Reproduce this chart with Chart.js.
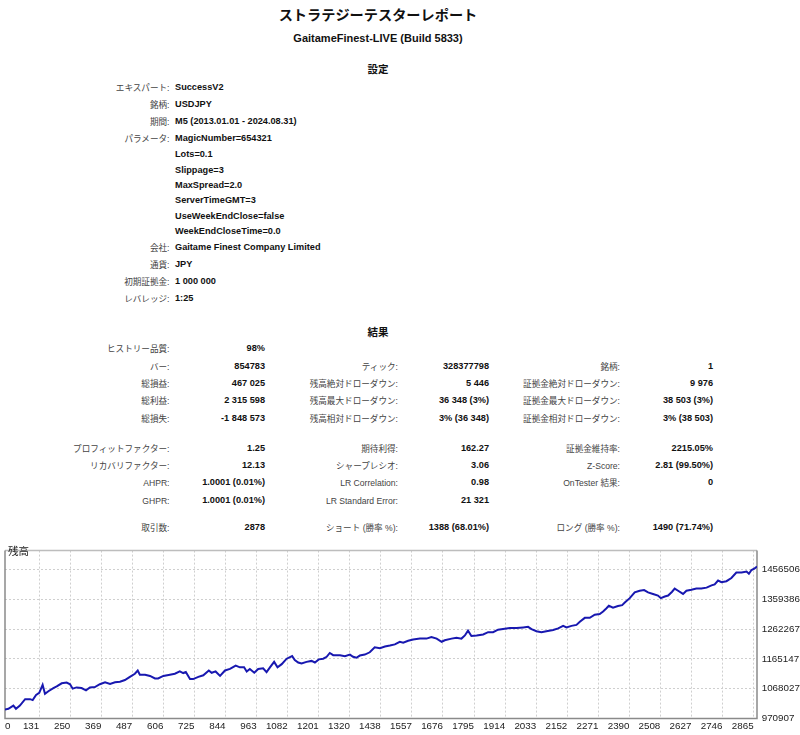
<!DOCTYPE html>
<html><head><meta charset="utf-8">
<script src="https://cdn.jsdelivr.net/npm/chart.js@4/dist/chart.umd.min.js"></script>
<style>
html,body{margin:0;padding:0;background:#fff;}
body{width:800px;height:735px;position:relative;overflow:hidden;font-family:"Liberation Sans","Noto Sans CJK JP",sans-serif;}
.t{position:absolute;white-space:nowrap;line-height:1;transform:translateY(-50%);}
.r{transform:translate(-100%,-50%);}
.c{transform:translate(-50%,-50%);}
.lab{font-size:8.6px;color:#444;}
.val{font-size:9.2px;font-weight:bold;color:#111;}
.hd{font-size:10.5px;font-weight:bold;color:#111;}
#wrap{position:absolute;left:0;top:540px;width:800px;height:195px;}
</style></head>
<body>
<div id="txt"></div>
<div id="wrap"><canvas id="c" width="800" height="195"></canvas></div>
<div class="t lab" style="left:8px;top:551px;font-size:10.5px;color:#222;">残高</div>
<script>
// ---- chart data ----
const tradeIdx = [0,13,32,42,57,77,96,106,119,131,144,153,166,185,198,217,236,249,259,274,293,310,325,344,363,383,402,421,440,459,478,497,508,516,536,555,574,586,606,631,650,669,682,692,708,720,740,
759,780,791,806,823,842,861,883,899,915,925,937,954,969,988,1001,1014,1030,1043,1059,1078,1099,1109,1122,1135,1154,1173,1186,1201,1218,1231,1243,1256,1282,1301,1320,1332,1345,1358,1377,1396,1415,1435,1454,1473,
1492,1511,1524,1543,1562,1588,1613,1632,1652,1671,1683,1709,1728,1747,1760,1772,1785,1805,1830,1849,1868,1887,1906,1932,1958,1983,2002,2015,2034,2053,2072,2098,2117,2136,2149,2168,2187,2200,2219,
2238,2257,2276,2289,2302,2311,2327,2346,2362,2372,2391,2410,2429,2446,2461,2480,2499,2510,2525,2538,2553,2563,2576,2595,2608,2627,2646,2665,2685,2704,2716,2729,2742,2761,2780,2799,2819,2838,2847,2857,2869,2878];
const balance = [1000000,1002449,1012755,1002449,1012755,1033679,1033679,1030556,1047108,1054291,1080524,1051168,1059600,1069906,1075215,1085521,1087707,1082398,1068032,1072092,1069906,1062723,1072092,1073029,1082398,1088644,1083647,1088644,1090830,1096139,1106445,1116751,1127369,1113628,1113628,1109568,1101136,1101136,1109568,1113628,1116751,1124246,1118937,1122060,1099262,1099262,1106445,
1111754,1127369,1119874,1124246,1109568,1127369,1132366,1142984,1137675,1137675,1124246,1132366,1119874,1132366,1134552,1122060,1137675,1155476,1137675,1147981,1165782,1174214,1161722,1153290,1150167,1155476,1158599,1153290,1163596,1165782,1172028,1184520,1177337,1177337,1174214,1179211,1172028,1168905,1176088,1179211,1186706,1203258,1200135,1205444,1208567,
1212627,1221059,1217936,1224182,1228242,1231365,1231365,1236674,1231365,1221059,1226056,1231365,1234488,1231365,1241671,1257286,1239797,1241671,1244794,1252289,1252289,1260409,1262595,1265718,1265718,1267904,1269778,1262595,1255412,1252289,1255412,1259472,1264781,1272901,1267904,1272901,1276024,1286642,1299134,
1299134,1309440,1311626,1319746,1330364,1338484,1332238,1337547,1340670,1349102,1363468,1382206,1387515,1389701,1382206,1377209,1371900,1363468,1368777,1371900,1384392,1394698,1387515,1377209,1387515,1390638,1394698,1394698,1397821,1405316,1408439,1420931,1415622,1418745,1429051,1446852,1446852,1449975,1442792,1455284,1460281,1467025];
const xTickValues = [131,250,369,487,606,725,844,963,1082,1201,1320,1438,1557,1676,1795,1914,2033,2152,2271,2390,2508,2627,2746,2865];
const yTickValues = [970907,1068027,1165147,1262267,1359386,1456506];
const yTickLabels = ['970907','1068027','1165147','1262267','1359386','1456506'];
const xMax = 2878;
const yMin = 970907, yMax = 1518700;

// ---- report text ----
const settings = [
 ['エキスパート:','SuccessV2',87.7],['銘柄:','USDJPY',105],['期間:','M5 (2013.01.01 - 2024.08.31)',122],
 ['パラメータ:','MagicNumber=654321',139.3],['','Lots=0.1',155.3],['','Slippage=3',170.7],['','MaxSpread=2.0',186],
 ['','ServerTimeGMT=3',201],['','UseWeekEndClose=false',216.7],['','WeekEndCloseTime=0.0',231.7],
 ['会社:','Gaitame Finest Company Limited',248],['通貨:','JPY',265.3],['初期証拠金:','1 000 000',282.3],['レバレッジ:','1:25',298.5]
];
const results = [
 [349.3,'ヒストリー品質:','98%','','','',''],
 [366.8,'バー:','854783','ティック:','328377798','銘柄:','1'],
 [383.7,'総損益:','467 025','残高絶対ドローダウン:','5 446','証拠金絶対ドローダウン:','9 976'],
 [401,'総利益:','2 315 598','残高最大ドローダウン:','36 348 (3%)','証拠金最大ドローダウン:','38 503 (3%)'],
 [418.5,'総損失:','-1 848 573','残高相対ドローダウン:','3% (36 348)','証拠金相対ドローダウン:','3% (38 503)'],
 [448.5,'プロフィットファクター:','1.25','期待利得:','162.27','証拠金維持率:','2215.05%'],
 [465.8,'リカバリファクター:','12.13','シャープレシオ:','3.06','Z-Score:','2.81 (99.50%)'],
 [483.3,'AHPR:','1.0001 (0.01%)','LR Correlation:','0.98','OnTester 結果:','0'],
 [500.7,'GHPR:','1.0001 (0.01%)','LR Standard Error:','21 321','',''],
 [528.3,'取引数:','2878','ショート (勝率 %):','1388 (68.01%)','ロング (勝率 %):','1490 (71.74%)']
];
const colRight = [169.5,265,398,489,620,713];

let h = '';
function el(cls, x, y, s, extra){ h += `<div class="t ${cls}" style="left:${x}px;top:${y}px;${extra||''}">${s}</div>`; }
el('c hd',378,15,'ストラテジーテスターレポート','font-size:14.2px;');
el('c hd',378,37.5,'GaitameFinest-LIVE (Build 5833)','font-size:11px;');
el('c hd',378,69,'設定');
settings.forEach(r=>{ if(r[0]) el('r lab',169.5,r[2],r[0]); el('val',175,r[2],r[1]); });
el('c hd',378,332.3,'結果');
results.forEach(r=>{
  for(let k=0;k<3;k++){
    if(r[1+2*k]) el('r lab',colRight[2*k],r[0],r[1+2*k]);
    if(r[2+2*k]) el('r val',colRight[2*k+1],r[0],r[2+2*k]);
  }
});
document.getElementById('txt').innerHTML = h;

// ---- chart ----
const pts = tradeIdx.map((t,i)=>({x:t,y:balance[i]}));
const frame = {
  id:'frame',
  beforeDatasetsDraw(chart){
    const {ctx, chartArea:a} = chart;
    ctx.save();
    ctx.lineWidth = 1.5;
    ctx.strokeStyle = '#bdbdbd';
    ctx.beginPath(); ctx.moveTo(a.left,a.top); ctx.lineTo(a.right,a.top); ctx.stroke();
    ctx.strokeStyle = '#8a8a8a';
    ctx.beginPath(); ctx.moveTo(a.left,a.top); ctx.lineTo(a.left,a.bottom); ctx.lineTo(a.right,a.bottom); ctx.lineTo(a.right,a.top); ctx.stroke();
    ctx.restore();
  }
};
const tickFont = {family:'"Liberation Sans", sans-serif', size:9.8};
new Chart(document.getElementById('c'), {
  type:'line',
  data:{datasets:[{data:pts, borderColor:'#1818b0', borderWidth:2, pointRadius:0, tension:0, fill:false}]},
  options:{
    responsive:false, animation:false, devicePixelRatio:1,
    layout:{padding:{left:5, top:3, right:0, bottom:0}},
    plugins:{legend:{display:false}, tooltip:{enabled:false}},
    scales:{
      x:{type:'linear', position:'bottom', min:0, max:xMax,
         afterBuildTicks:s=>{ s.ticks = xTickValues.map(v=>({value:v})); },
         afterFit:s=>{ s.height = 16.6; },
         grid:{color:'#cfcfcf', drawTicks:false, lineWidth:1},
         border:{display:false, dash:[2,2]},
         ticks:{align:'end', maxRotation:0, autoSkip:false, padding:2, color:'#222', font:tickFont, callback:v=>String(v)}},
      x0:{type:'linear', position:{y:yMin}, min:0, max:xMax,
         afterBuildTicks:s=>{ s.ticks = [{value:0}]; },
         grid:{display:false, drawTicks:false}, border:{display:false},
         ticks:{align:'start', maxRotation:0, autoSkip:false, padding:2, color:'#222', font:tickFont, callback:v=>String(v)}},
      y:{type:'linear', position:'right', min:yMin, max:yMax,
         afterBuildTicks:s=>{ s.ticks = yTickValues.map(v=>({value:v})); },
         afterFit:s=>{ s.width = 43; },
         grid:{color:'#cfcfcf', drawTicks:false, lineWidth:1},
         border:{display:false, dash:[2,2]},
         ticks:{padding:4.7, color:'#222', font:tickFont, callback:(v,i)=>yTickLabels[i]}}
    }
  },
  plugins:[frame]
});
</script>
</body></html>
